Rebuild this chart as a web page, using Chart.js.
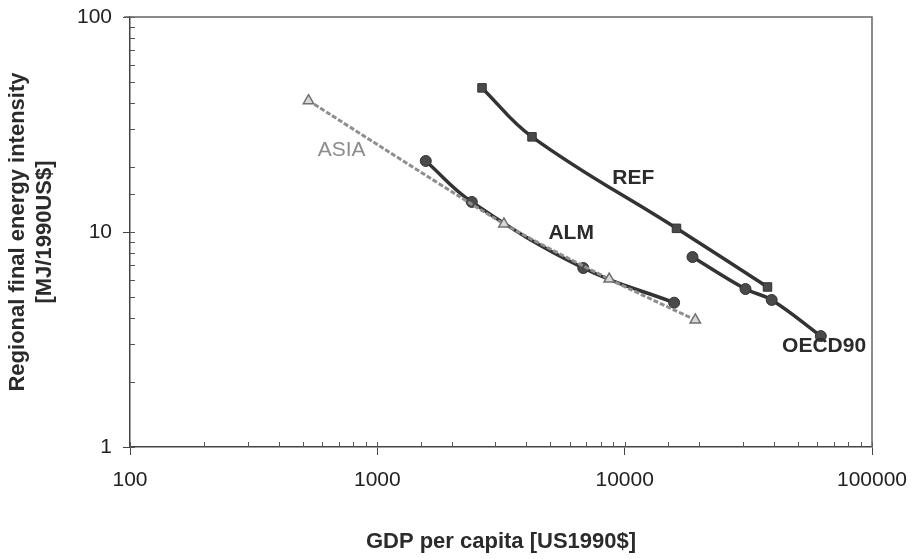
<!DOCTYPE html>
<html lang="en">
	<head>
		<meta charset="UTF-8" />
		<title>Regional final energy intensity vs GDP per capita</title>
		<script src="https://cdn.jsdelivr.net/npm/chart.js"></script>
		<style>
			html,
			body {
				margin: 0;
				padding: 0;
				background: #fff;
			}
			#chart-container {
				width: 912px;
				height: 559px;
			}
		</style>
	</head>
	<body>
		<div id="chart-container">
			<canvas id="intensityChart" width="912" height="559"></canvas>
		</div>

		<script>
			// GDP per capita [US1990$] and final energy intensity [MJ/1990US$]
			const asiaGdp = [527, 3250, 8660, 19300];
			const asiaIntensity = [40.8, 10.9, 6.04, 3.9];
			const almGdp = [1570, 2410, 6800, 15850];
			const almIntensity = [21.4, 13.8, 6.8, 4.69];
			const refGdp = [2650, 4220, 16200, 37800];
			const refIntensity = [46.8, 27.7, 10.4, 5.55];
			const oecdGdp = [18800, 30800, 39300, 62100];
			const oecdIntensity = [7.65, 5.43, 4.83, 3.28];

			const xTickLabels = [100, 1000, 10000, 100000];
			const yTickLabels = [1, 10, 100];

			// region names and where they sit, in data units
			const regionNames = ["ASIA", "REF", "ALM", "OECD90"];
			const regionNameGdp = [717, 10840, 6075, 64000];
			const regionNameIntensity = [24.0, 17.8, 9.9, 2.95];

			function toPoints(xs, ys) {
				return xs.map((x, i) => ({ x: x, y: ys[i] }));
			}

			// inward minor ticks, frame and region names
			const decorations = {
				id: "decorations",
				afterDatasetsDraw(chart) {
					const { ctx, chartArea, scales } = chart;
					ctx.save();
					ctx.strokeStyle = "#555";
					ctx.lineWidth = 1;
					ctx.beginPath();
					scales.x.ticks.forEach((t) => {
						const px = Math.round(scales.x.getPixelForValue(t.value)) + 0.5;
						ctx.moveTo(px, chartArea.bottom);
						ctx.lineTo(px, chartArea.bottom - 5);
					});
					scales.y.ticks.forEach((t) => {
						const py = Math.round(scales.y.getPixelForValue(t.value)) + 0.5;
						ctx.moveTo(chartArea.left, py);
						ctx.lineTo(chartArea.left + 5, py);
					});
					ctx.stroke();

					ctx.strokeStyle = "#666";
					ctx.lineWidth = 1.5;
					ctx.beginPath();
					ctx.moveTo(chartArea.left - 6, chartArea.top);
					ctx.lineTo(chartArea.right, chartArea.top);
					ctx.lineTo(chartArea.right, chartArea.bottom);
					ctx.stroke();

					ctx.textAlign = "center";
					ctx.textBaseline = "middle";
					regionNames.forEach((name, i) => {
						const px = scales.x.getPixelForValue(regionNameGdp[i]);
						const py = scales.y.getPixelForValue(regionNameIntensity[i]);
						if (name === "ASIA") {
							ctx.font = "21px 'Liberation Sans', Arial, sans-serif";
							ctx.fillStyle = "#8c8c8c";
						} else {
							ctx.font = "bold 21px 'Liberation Sans', Arial, sans-serif";
							ctx.fillStyle = "#2b2b2b";
						}
						ctx.fillText(name, px, py);
					});
					ctx.restore();
				},
			};

			const darkLine = "#333333";
			const markerFill = "#4a4a4a";

			const ctx = document.getElementById("intensityChart").getContext("2d");
			new Chart(ctx, {
				type: "scatter",
				data: {
					datasets: [
						{
							label: "ASIA",
							data: toPoints(asiaGdp, asiaIntensity),
							showLine: true,
							tension: 0.2,
							borderColor: "#8f8f8f",
							borderWidth: 3,
							borderDash: [5, 2],
							pointStyle: "triangle",
							pointRadius: 6,
							pointBackgroundColor: "#d8d8d8",
							pointBorderColor: "#6f6f6f",
							pointBorderWidth: 1.5,
						},
						{
							label: "ALM",
							data: toPoints(almGdp, almIntensity),
							showLine: true,
							tension: 0.4,
							borderColor: darkLine,
							borderWidth: 3.5,
							pointStyle: "circle",
							pointRadius: 5.5,
							pointBackgroundColor: markerFill,
							pointBorderColor: darkLine,
							pointBorderWidth: 1,
						},
						{
							label: "REF",
							data: toPoints(refGdp, refIntensity),
							showLine: true,
							tension: 0.4,
							borderColor: darkLine,
							borderWidth: 3.5,
							pointStyle: "rect",
							pointRadius: 6,
							pointBackgroundColor: markerFill,
							pointBorderColor: darkLine,
							pointBorderWidth: 1,
						},
						{
							label: "OECD90",
							data: toPoints(oecdGdp, oecdIntensity),
							showLine: true,
							tension: 0.4,
							borderColor: darkLine,
							borderWidth: 3.5,
							pointStyle: "circle",
							pointRadius: 5.5,
							pointBackgroundColor: markerFill,
							pointBorderColor: darkLine,
							pointBorderWidth: 1,
						},
					],
				},
				options: {
					responsive: true,
					maintainAspectRatio: false,
					animation: false,
					layout: { padding: { top: 17, right: 40, bottom: 0, left: 0 } },
					plugins: {
						legend: { display: false },
						tooltip: { enabled: false },
					},
					scales: {
						x: {
							type: "logarithmic",
							min: 100,
							max: 100000,
							afterFit(scale) {
								scale.height = 112;
								scale.paddingLeft = 0;
								scale.paddingRight = 0;
							},
							border: { display: true, color: "#444", width: 1.5 },
							grid: {
								drawOnChartArea: false,
								tickLength: 8,
								color: (c) => (c.tick && xTickLabels.includes(c.tick.value) ? "#444" : "rgba(0,0,0,0)"),
							},
							ticks: {
								autoSkip: false,
								maxRotation: 0,
								padding: 13,
								color: "#222",
								font: { family: "'Liberation Sans', Arial, sans-serif", size: 21 },
								callback: (v) => (xTickLabels.includes(v) ? String(v) : ""),
							},
							title: {
								display: true,
								text: "GDP per capita [US1990$]",
								color: "#2b2b2b",
								padding: { top: 0, bottom: 4 },
								font: { family: "'Liberation Sans', Arial, sans-serif", size: 22, weight: "bold" },
							},
						},
						y: {
							type: "logarithmic",
							min: 1,
							max: 100,
							afterFit(scale) {
								scale.width = 130;
								scale.paddingTop = 0;
								scale.paddingBottom = 0;
							},
							border: { display: true, color: "#444", width: 1.5 },
							grid: {
								drawOnChartArea: false,
								tickLength: 7,
								color: (c) => (c.tick && yTickLabels.includes(c.tick.value) ? "#444" : "rgba(0,0,0,0)"),
							},
							ticks: {
								autoSkip: false,
								padding: 11,
								color: "#222",
								font: { family: "'Liberation Sans', Arial, sans-serif", size: 21 },
								callback: (v) => (yTickLabels.includes(v) ? String(v) : ""),
							},
							title: {
								display: true,
								text: ["Regional final energy intensity", "[MJ/1990US$]"],
								color: "#2b2b2b",
								padding: { top: 4, bottom: 0 },
								font: { family: "'Liberation Sans', Arial, sans-serif", size: 22, weight: "bold", lineHeight: 1.25 },
							},
						},
					},
				},
				plugins: [decorations],
			});
		</script>
	</body>
</html>
